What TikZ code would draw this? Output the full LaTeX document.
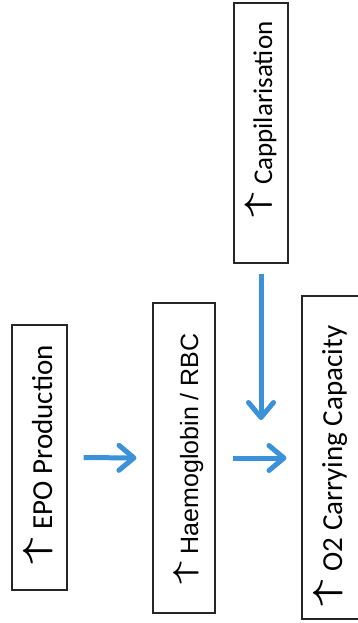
\RequirePackage{fix-cm}
\documentclass[tikz,border=0pt]{standalone}
\usepackage{fontspec}
\setmainfont{Carlito}
\newfontfamily\arialfont{Liberation Sans}
% up arrow set in front of each label
\newcommand{\upmark}{\raisebox{0.2em}{\scalebox{1.6}[1.15]{\boldmath$\uparrow$}}\hspace{0.3em}}
\usetikzlibrary{arrows.meta}
\definecolor{flowblue}{RGB}{60,146,216}
\tikzset{
  factor/.style={draw=black!85, line width=1.1pt},
  label/.style={rotate=90, anchor=base west, inner sep=0pt},
  flow/.style={draw=flowblue, line width=5pt,
    -{Straight Barb[length=15pt,width=25pt,round]}}
}
\begin{document}
\begin{tikzpicture}[x=1pt,y=-1pt]
  \useasboundingbox (0,0) rectangle (358,623);
  \clip (0,0) rectangle (358,623);
  \fill[white] (0,0) rectangle (358,623);
  % factor boxes
  \node[factor, minimum width=55pt, minimum height=265pt] (epo) at (39.5,457.5) {};
  \node[factor, minimum width=62pt, minimum height=310pt] (hb) at (184,458) {};
  \node[factor, minimum width=54pt, minimum height=260pt] (cap) at (261,133) {};
  \node[factor, minimum width=60pt, minimum height=323pt] (o2) at (332,457.5) {};
  % labels, reading bottom to top
  \node[label, font=\fontsize{29}{34}\selectfont] (epot) at (52,565) {\upmark EPO Production};
  \node[label, font=\arialfont\fontsize{25}{30}\selectfont] (hbt) at (198,585) {\upmark Haemoglobin / RBC};
  \node[label, font=\fontsize{27}{32}\selectfont] (capt) at (272,218) {\upmark Cappilarisation};
  \node[label, font=\fontsize{29}{34}\selectfont] (o2t) at (342,607) {\upmark O2 Carrying Capacity};
  % connectors
  \coordinate (capend) at (261,420);
  \draw[flow, shorten <=16pt, shorten >=16pt] (epo.east) -- (hb.west);
  \draw[flow, shorten <=17pt, shorten >=15pt] (hb.east) -- (o2.west |- hb.east);
  \draw[flow, shorten <=10pt] (cap.south) -- (capend);
\end{tikzpicture}
\end{document}
